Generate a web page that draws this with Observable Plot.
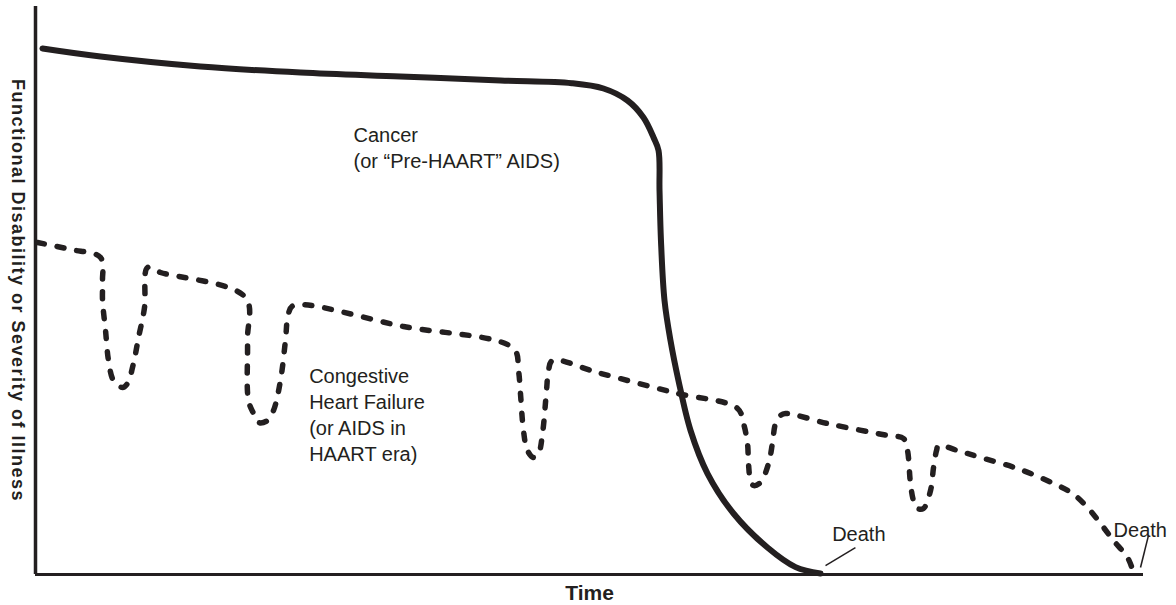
<!DOCTYPE html>
<html><head><meta charset="utf-8">
<script src="https://cdn.jsdelivr.net/npm/d3@7"></script>
<script src="https://cdn.jsdelivr.net/npm/@observablehq/plot@0.6"></script>
<style>body{margin:0;background:#fff}</style>
</head><body><div id="chart"></div>
<script>
// Cancer (or "Pre-HAART" AIDS) trajectory — time 0–100, severity 0–100
const cancerTime = [0.63,5.87,14.89,23.92,32.94,41.97,48.4,51.26,53.43,54.87,55.78,56.23,56.32,56.45,56.77,57.31,58.03,59.12,60.65,63.00,66.06,68.6,70.85];
const cancerLevel = [92.61,91.20,89.44,88.38,87.68,86.97,86.5,85.56,83.45,80.46,76.94,74.65,67.6,58.80,48.24,41.20,34.15,25.35,17.78,10.74,4.75,1.3,0.18];

// Congestive heart failure (or AIDS in HAART era) trajectory
const chfTime = [0.18,3.16,5.87,6.05,6.05,6.32,6.59,7.04,7.85,8.30,8.84,9.30,9.84,10.11,11.28,18.95,19.13,19.22,19.68,20.13,20.94,21.48,22.11,22.56,22.83,23.29,33.21,43.14,43.59,43.77,44.04,44.40,44.95,45.40,45.76,46.12,46.30,46.66,50.72,57.58,63.36,63.90,64.26,64.35,64.53,64.80,65.43,66.16,66.52,66.79,67.24,67.69,71.48,76.90,78.34,78.70,78.97,79.24,79.60,80.14,80.78,81.05,81.32,81.50,83.21,85.29,88.63,91.88,93.59,94.95,96.12,97.29,98.56,99.10];
const chfLevel = [58.45,57.22,55.81,51.76,48.24,42.96,37.68,34.15,32.92,33.63,37.15,41.73,47.01,54.05,53.17,48.77,41.20,30.63,28.35,26.76,27.11,28.87,34.15,41.20,45.95,47.36,43.66,39.79,35.92,31.87,25.35,21.83,20.60,21.30,24.82,32.39,35.92,37.68,35.56,32.04,29.23,26.58,23.06,19.54,16.55,15.67,16.20,19.54,23.24,26.58,27.99,28.35,26.58,24.47,23.94,21.83,16.02,13.03,11.62,11.62,14.79,18.84,21.83,22.71,21.83,20.60,18.66,16.02,14.26,11.80,8.98,5.99,2.99,0.35];

// Annotations
const labelText = ["Cancer\n(or “Pre-HAART” AIDS)", "Congestive\nHeart Failure\n(or AIDS in\nHAART era)", "Death", "Death"];
const labelTime = [28.7, 24.7, 71.9, 97.3];
const labelLevel = [79.4, 37.0, 9.15, 9.86];

const pointerTime1 = [71.3, 99.73];
const pointerLevel1 = [1.58, 1.23];
const pointerTime2 = [74.0, 100.45];
const pointerLevel2 = [4.75, 6.87];

const xTitle = "Time";
const yTitle = "Functional Disability or Severity of Illness";

const ink = "#231f20";
const cancer = cancerTime.map((t, i) => ({t, v: cancerLevel[i]}));
const chf = chfTime.map((t, i) => ({t, v: chfLevel[i]}));
const labels = labelText.map((s, i) => ({s, t: labelTime[i], v: labelLevel[i]}));
const pointers = pointerTime1.map((t, i) => ({t1: t, v1: pointerLevel1[i], t2: pointerTime2[i], v2: pointerLevel2[i]}));

const chart = Plot.plot({
  width: 1176, height: 605,
  marginLeft: 35, marginRight: 33, marginTop: 6, marginBottom: 31,
  style: {fontFamily: "'Liberation Sans', Arial, sans-serif", background: "#fff", color: ink},
  x: {domain: [0, 100], axis: null},
  y: {domain: [0, 100], axis: null},
  marks: [
    Plot.ruleX([0], {stroke: ink, strokeWidth: 3.5}),
    Plot.ruleY([0], {stroke: ink, strokeWidth: 3}),
    Plot.line(chf, {x: "t", y: "v", curve: "catmull-rom", stroke: ink, strokeWidth: 5.5, strokeDasharray: "7,13", strokeLinecap: "round"}),
    Plot.line(cancer, {x: "t", y: "v", curve: "catmull-rom", stroke: ink, strokeWidth: 6, strokeLinecap: "round"}),
    Plot.link(pointers, {x1: "t1", y1: "v1", x2: "t2", y2: "v2", stroke: ink, strokeWidth: 1.5}),
    Plot.text(labels, {x: "t", y: "v", text: "s", textAnchor: "start", lineAnchor: "top", fontSize: 20, lineHeight: 1.3, fill: ink}),
    Plot.text([yTitle], {frameAnchor: "left", dx: -18, rotate: 90, textAnchor: "middle", lineAnchor: "middle", fontSize: 18, fontWeight: "bold", fill: ink}),
    Plot.text([xTitle], {frameAnchor: "bottom", dy: 11, lineAnchor: "top", fontSize: 21, fontWeight: "bold", fill: ink})
  ]
});
d3.select(chart).selectAll("text").filter(function () { return this.textContent === yTitle; }).attr("letter-spacing", "1.5px");
document.getElementById("chart").appendChild(chart);
</script>
</body></html>
